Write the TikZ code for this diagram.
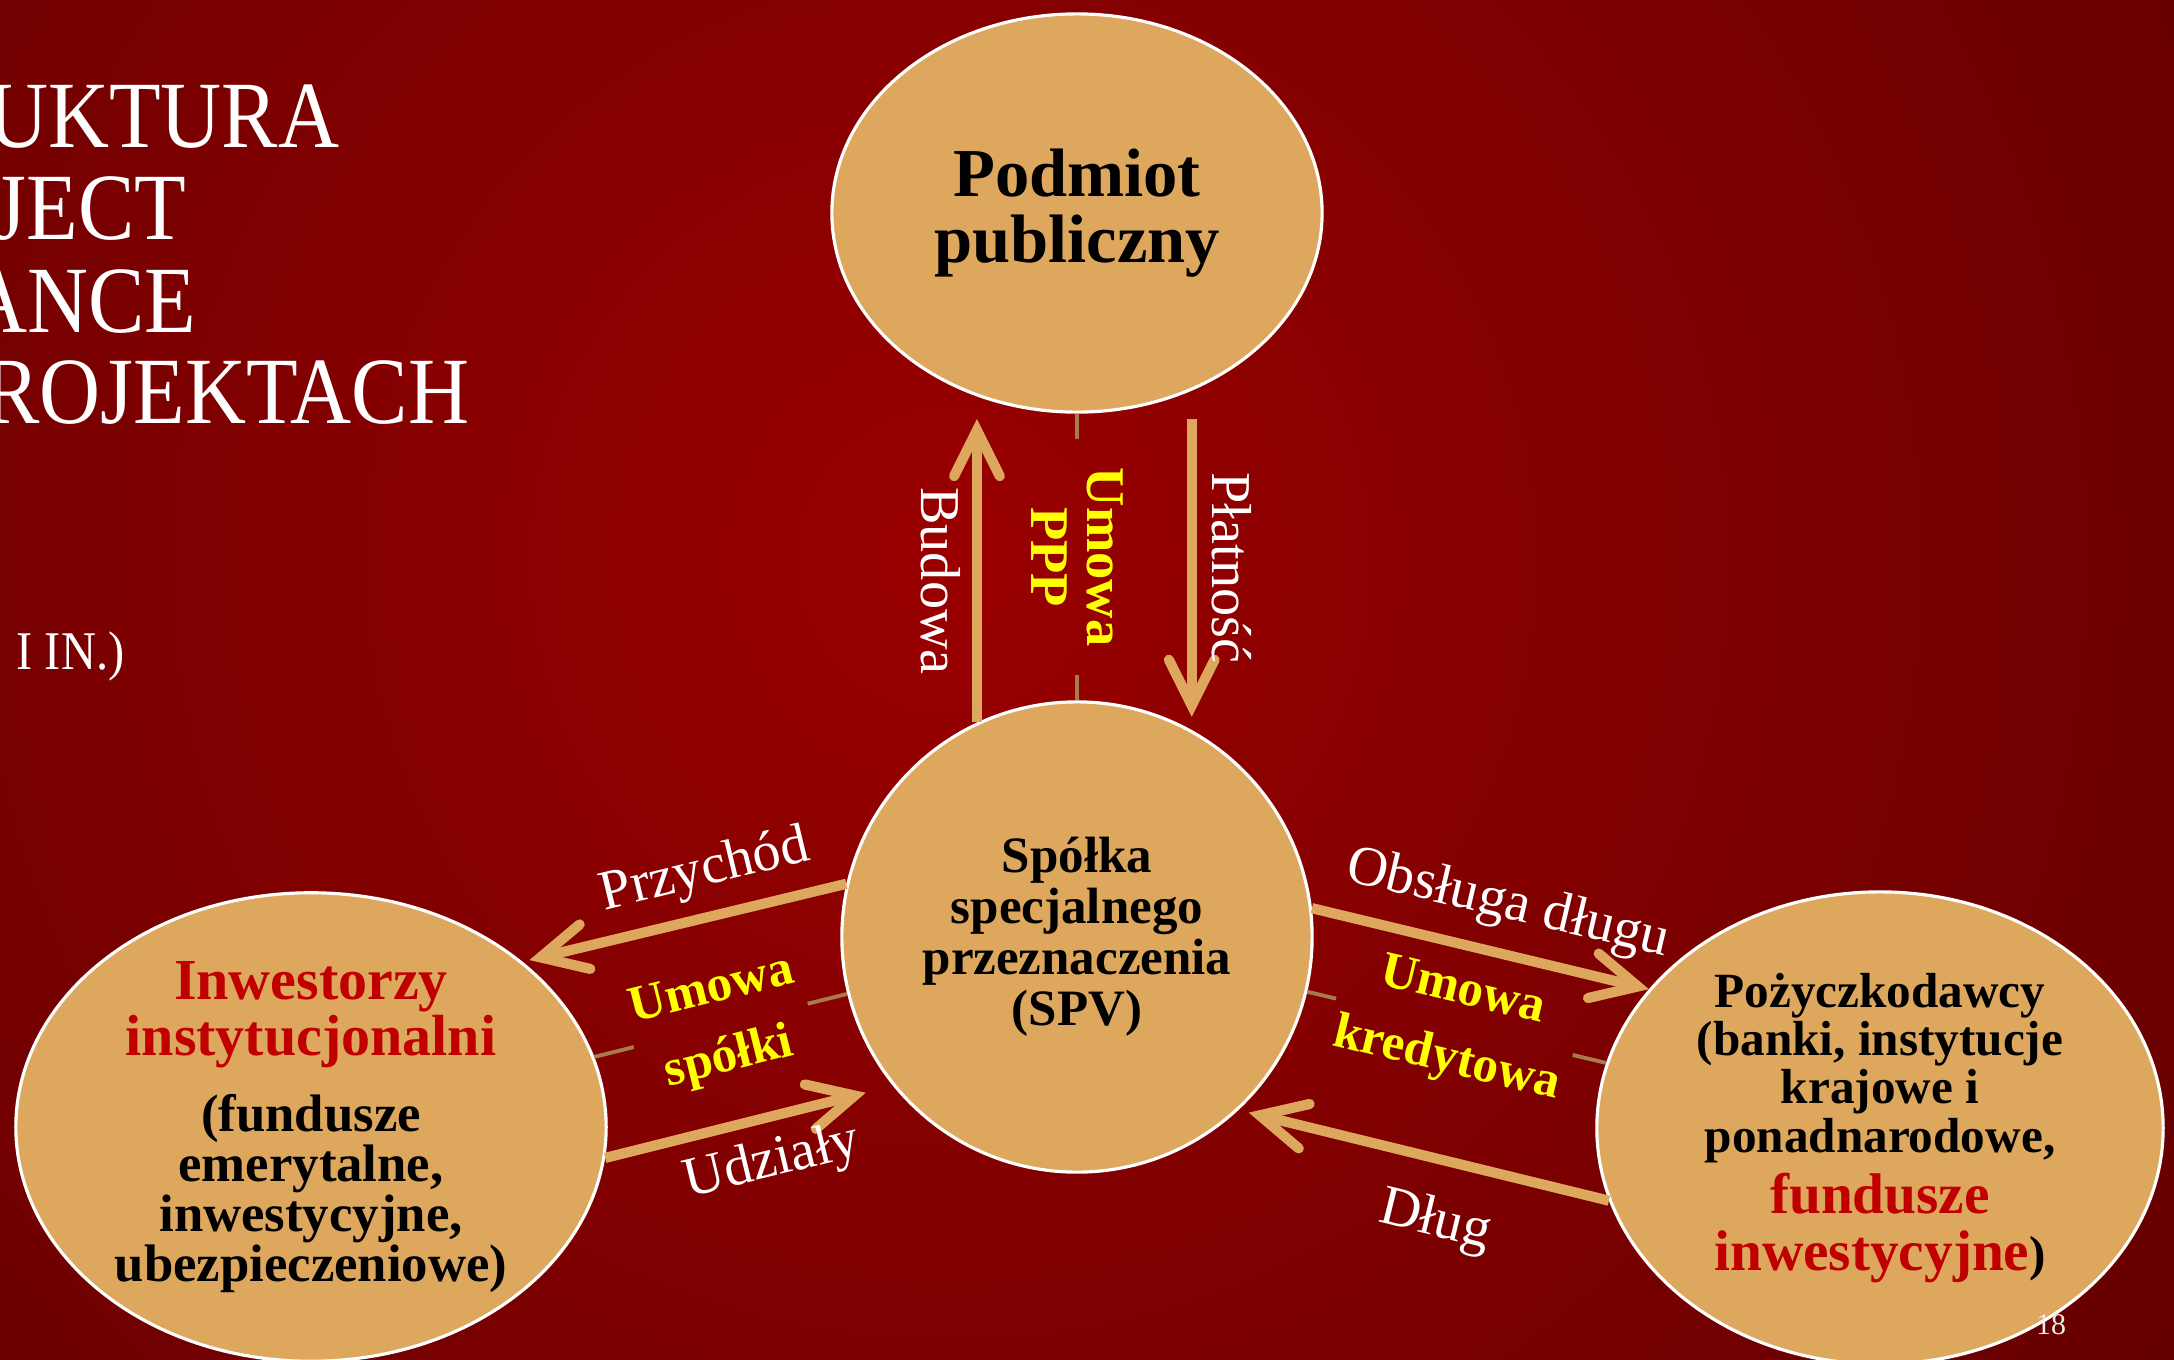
\documentclass[tikz,border=0pt]{standalone}
\usepackage{fontspec}
\setmainfont{Liberation Serif}
\usetikzlibrary{shapes.geometric,arrows.meta,calc}
\definecolor{bgin}{HTML}{9A0000}
\definecolor{bgout}{HTML}{300000}
\definecolor{sand}{HTML}{DDA85E}
\definecolor{bronze}{HTML}{A87C48}
\definecolor{deepred}{HTML}{C00000}
\definecolor{lemon}{HTML}{FFFF00}
\begin{document}
\begin{tikzpicture}[x=0.01cm,y=-0.01cm,
    actor/.style={ellipse,fill=sand,draw=white,line width=0.9pt,inner sep=0pt,align=center},
    flow/.style={draw=sand,line width=2.9pt,-{Straight Barb[length=13pt,width=13pt,line cap=round,line join=miter]}},
    pact/.style={draw=bronze,line width=1.1pt},
    tag/.style={text=white,inner sep=0pt,font=\fontsize{16}{18}\selectfont},
    deal/.style={text=lemon,inner sep=0pt,inner xsep=1.5pt,align=center,font=\fontsize{14.5}{20}\selectfont\bfseries},
    title/.style={text=white,inner sep=0pt,anchor=base east,xscale=0.89,font=\fontsize{27}{30}\selectfont}]
    \useasboundingbox (0,0) rectangle (2174,1359);
    \begin{scope}
        \clip (0,0) rectangle (2174,1359);
        \shade[inner color=bgin,outer color=bgout] (-1950,-2340) rectangle (3850,3460);
    \end{scope}

    \node[title] (t1) at (340,147) {UKTURA};
    \node[title] (t2) at (187,239) {JECT};
    \node[title] (t3) at (197,332) {ANCE};
    \node[title] (t4) at (470,423) {ROJEKTACH};
    \node[title,font=\fontsize{15.5}{18}\selectfont] (t5) at (125,669) {I IN.)};

    \node[actor,minimum width=4.9cm,minimum height=3.98cm,font=\fontsize{19.5}{18.8}\selectfont\bfseries] (pub) at (1077,213) {Podmiot\\publiczny};
    \node[actor,circle,minimum size=4.7cm,font=\fontsize{14.5}{14.5}\selectfont\bfseries] (spv) at (1077,937) {Spółka\\specjalnego\\przeznaczenia\\(SPV)};
    \node[actor,minimum width=5.9cm,minimum height=4.66cm,font=\fontsize{15}{14.2}\selectfont\bfseries] (inv) at (311,1127)
        {{\fontsize{16.5}{14.2}\selectfont\color{deepred}Inwestorzy}\\{\fontsize{16.5}{14.2}\selectfont\color{deepred}instytucjonalni}\\[7.4pt]
         (fundusze\\emerytalne,\\inwestycyjne,\\ubezpieczeniowe)};
    \node[actor,minimum width=5.66cm,minimum height=4.72cm,font=\fontsize{14}{13.7}\selectfont\bfseries] (loan) at (1880,1128)
        {Pożyczkodawcy\\(banki, instytucje\\krajowe i\\ponadnarodowe,\\[2pt]
         {\fontsize{16.3}{14}\selectfont\color{deepred}fundusze}\\[2.5pt]{\fontsize{16.3}{14}\selectfont\color{deepred}inwestycyjne})};

    \node[deal,rotate=-90,inner xsep=8pt,font=\fontsize{15.5}{16}\selectfont\bfseries] (ppp) at (1077,557) {Umowa\\PPP};
    \node[deal,rotate=14] (spol) at ($(inv)!0.535!(spv)$) {Umowa\\spółki};
    \node[deal,rotate=-13.4] (kred) at ($(spv)!0.47!(loan)$) {Umowa\\kredytowa};
    \draw[pact] (pub.south) -- (ppp.west);
    \draw[pact] (ppp.east) -- (spv.north);
    \draw[pact] (inv) -- (spol.west);
    \draw[pact] (spol.east) -- (spv);
    \draw[pact] (spv) -- (kred.west);
    \draw[pact] (kred.east) -- (loan);

    \draw[flow,shorten >=1.5pt] (spv.115) -- (spv.115 |- pub.south);
    \draw[flow,shorten <=1.5pt,shorten >=3.7pt] (spv.61 |- pub.south) -- (spv.61);
    \draw[flow,shorten >=2pt] (spv.167) -- (inv.38);
    \draw[flow,shorten >=8pt] (inv.-6) -- (spv.219);
    \draw[flow] (spv.7) -- (loan.149);
    \draw[flow,shorten >=3pt] (loan.195) -- (spv.-47);

    \node[tag,rotate=-90] (bud) at (941,581) {Budowa};
    \node[tag,rotate=-90] (pla) at (1232,568) {Płatność};
    \node[tag,rotate=13.6] (prz) at (705,872) {Przychód};
    \node[tag,rotate=13.6] (udz) at (772,1163) {Udziały};
    \node[tag,rotate=-13.3] (obs) at (1508,905) {Obsługa długu};
    \node[tag,rotate=-13.8] (dlu) at (1435,1222) {Dług};

    \node[text=white!85!gray,inner sep=0pt,font=\fontsize{8.5}{10}\selectfont] (pg) at (2051,1325) {18};
\end{tikzpicture}
\end{document}
